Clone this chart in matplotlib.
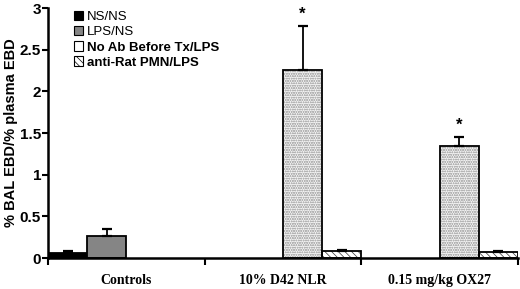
import matplotlib
matplotlib.use("Agg")
import matplotlib.pyplot as plt
import matplotlib.transforms as mtransforms
import numpy as np
from matplotlib.patches import Patch

categories = ["Controls", "10% D42 NLR", "0.15 mg/kg OX27"]
series_names = ["NS/NS", "LPS/NS", "No Ab Before Tx/LPS", "anti-Rat PMN/LPS"]
values = {
    "NS/NS": [0.06, np.nan, np.nan],
    "LPS/NS": [0.27, np.nan, np.nan],
    "No Ab Before Tx/LPS": [np.nan, 2.26, 1.34],
    "anti-Rat PMN/LPS": [np.nan, 0.08, 0.07],
}
errors = {
    "NS/NS": [0.02, 0, 0],
    "LPS/NS": [0.08, 0, 0],
    "No Ab Before Tx/LPS": [0, 0.52, 0.11],
    "anti-Rat PMN/LPS": [0, 0.02, 0.02],
}
stars = [(1, 2, 2.78), (2, 2, 1.45)]  # (category, series, errtop)

faces = ["#000000", "#858585", "#f2f2f2", "white"]
hatches = [None, None, "ooooooo", "\\\\\\\\\\"]
hatch_colors = ["black", "black", "#b5b5b5", "#333333"]

plt.rcParams['hatch.linewidth'] = 0.5
fig = plt.figure(figsize=(5.2, 2.89), dpi=100)
ax = fig.add_axes([0.0923, 0.107, 0.9037, 0.865])

x = np.arange(len(categories))
w = 0.25
for i, name in enumerate(series_names):
    vals = np.array(values[name], dtype=float)
    errs = np.array(errors[name], dtype=float)
    pos = x - 0.375 + i * w
    mask = ~np.isnan(vals)
    if hatches[i]:
        ax.bar(pos[mask], vals[mask], width=w, color=faces[i], edgecolor=hatch_colors[i],
               linewidth=0, hatch=hatches[i], zorder=2)
        ax.bar(pos[mask], vals[mask], width=w, fill=False, edgecolor="black",
               linewidth=1.3, zorder=2.5)
    else:
        ax.bar(pos[mask], vals[mask], width=w, color=faces[i], edgecolor="black",
               linewidth=1.3, zorder=2)
    ax.errorbar(pos[mask], vals[mask], yerr=[np.zeros(mask.sum()), errs[mask]],
                fmt="none", ecolor="black", elinewidth=1.3, capsize=3.5, capthick=1.6, zorder=3)

for c, s, top in stars:
    ax.text(x[c] - 0.375 + s * w, top + 0.05, "*", ha="center", va="bottom",
            fontsize=12, fontweight="bold", family="Liberation Sans")

ax.set_xlim(-0.5, 2.5)
ax.set_ylim(0, 3)
ax.set_yticks([0, 0.5, 1, 1.5, 2, 2.5, 3])
ax.set_yticklabels(["0", "0.5", "1", "1.5", "2", "2.5", "3"],
                   fontsize=11, fontweight="bold", family="Liberation Sans")
ax.set_xticks([-0.5, 0.5, 1.5, 2.5])
ax.set_xticklabels([])
ax.tick_params(axis="x", length=5, width=1.5, direction="out")
ax.tick_params(axis="y", length=4, width=1.5, direction="out", pad=1)
trans = mtransforms.blended_transform_factory(ax.transData, ax.transAxes)
for c, lab in zip(x, categories):
    ax.text(c, -0.09, lab, ha="center", va="center", fontsize=10, fontweight="bold",
            family="Liberation Serif", transform=trans)
ax.set_ylabel("% BAL EBD/% plasma EBD", fontsize=10.5, fontweight="bold",
              family="Liberation Sans", labelpad=1)
for sp in ["top", "right"]:
    ax.spines[sp].set_visible(False)
for sp in ["left", "bottom"]:
    ax.spines[sp].set_linewidth(1.8)

handles = [Patch(facecolor=faces[i], edgecolor="black", hatch=hatches[i], linewidth=0.8)
           for i in range(4)]
handles[2] = Patch(facecolor="white", edgecolor="black", linewidth=0.8)
leg = ax.legend(handles, series_names, loc="upper left", bbox_to_anchor=(0.038, 1.02),
                frameon=False, handlelength=0.7, handleheight=0.7,
                handletextpad=0.3, labelspacing=0.22, borderaxespad=0.2,
                prop={"family": "Liberation Sans", "size": 9.5})
for i, t in enumerate(leg.get_texts()):
    if i >= 2:
        t.set_fontweight("bold")

fig.savefig("out.png", dpi=100)
